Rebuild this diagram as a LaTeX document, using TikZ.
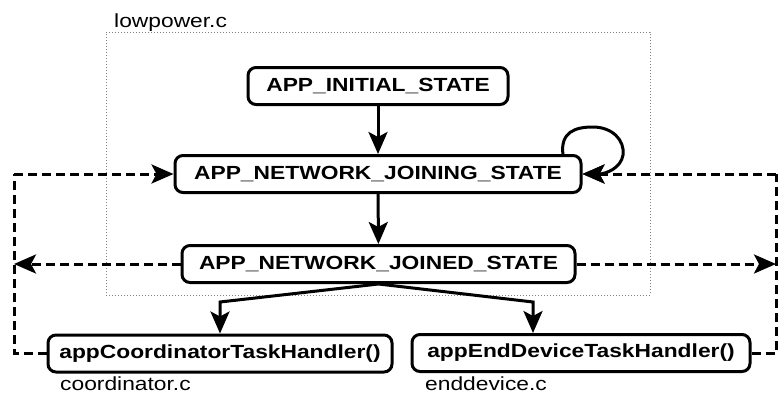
\documentclass[tikz,border=0pt]{standalone}
\usepackage{fontspec}
\setmainfont{Liberation Sans}[FakeStretch=1.2]
\usetikzlibrary{arrows.meta}
\begin{document}
\begin{tikzpicture}[x=1pt,y=-1pt,
  state/.style={draw, line width=3pt, rounded corners=8pt, inner sep=0pt,
    font=\fontsize{19}{22}\selectfont\bfseries, minimum height=37pt},
  lbl/.style={inner sep=0pt, anchor=west, font=\fontsize{19}{22}\selectfont},
  tip/.style={-{Stealth[length=22pt,width=19pt,inset=5pt]}},
  solidarrow/.style={line width=3pt, tip},
  dasharrow/.style={line width=3pt, dash pattern=on 9pt off 5pt}
]
\useasboundingbox (0,0) rectangle (778,394);
\node[draw=gray, dotted, line width=1pt, minimum width=544pt, minimum height=263pt, inner sep=0pt] (lp) at (378,163.5) {};
\node[lbl] (lpl) at (114,23) {lowpower.c};
\node[state, minimum width=260pt] (init) at (378,86) {APP\_INITIAL\_STATE};
\node[state, minimum width=406pt] (join) at (378,174) {APP\_NETWORK\_JOINING\_STATE};
\node[state, minimum width=393pt] (joined) at (378.5,264) {APP\_NETWORK\_JOINED\_STATE};
\node[state, minimum width=344pt] (coord) at (220,353.5) {appCoordinatorTaskHandler()};
\node[state, minimum width=338pt] (end) at (581,353) {appEndDeviceTaskHandler()};
\node[lbl] (coordl) at (60,384) {coordinator.c};
\node[lbl] (endl) at (425,384) {enddevice.c};
\coordinate (lx) at (14,0);
\coordinate (rx) at (776,0);
\coordinate (by) at (0,302);
\coordinate (ls) at (563,155);
\coordinate (lt) at (593,127);
\coordinate (lr) at (623,155);
% solid arrows
\draw[solidarrow] (init) -- (join);
\draw[solidarrow] (join) -- (joined);
\draw[solidarrow] (joined.south) -- (coord.north |- by) -- (coord.north);
\draw[solidarrow] (joined.south) -- ([xshift=-48pt]end.north |- by) -- ([xshift=-48pt]end.north);
\draw[solidarrow] (ls) .. controls (560,132) and (575,127) .. (lt) .. controls (612,127) and (625,140) .. (lr) .. controls (621,168) and (606,174) .. (join.east);
% dashed arrows
\draw[dasharrow] (coord.west) -- (lx |- coord.west) -- (lx |- join.west);
\draw[dasharrow, tip] (lx |- join.west) -- (join.west);
\draw[dasharrow, tip] (joined.west) -- (lx |- joined.west);
\draw[dasharrow, tip] (joined.east) -- (rx |- joined.east);
\draw[dasharrow] (end.east) -- (rx |- end.east) -- (rx |- join.east);
\draw[dasharrow, tip] (rx |- join.east) -- (join.east);
\end{tikzpicture}
\end{document}
